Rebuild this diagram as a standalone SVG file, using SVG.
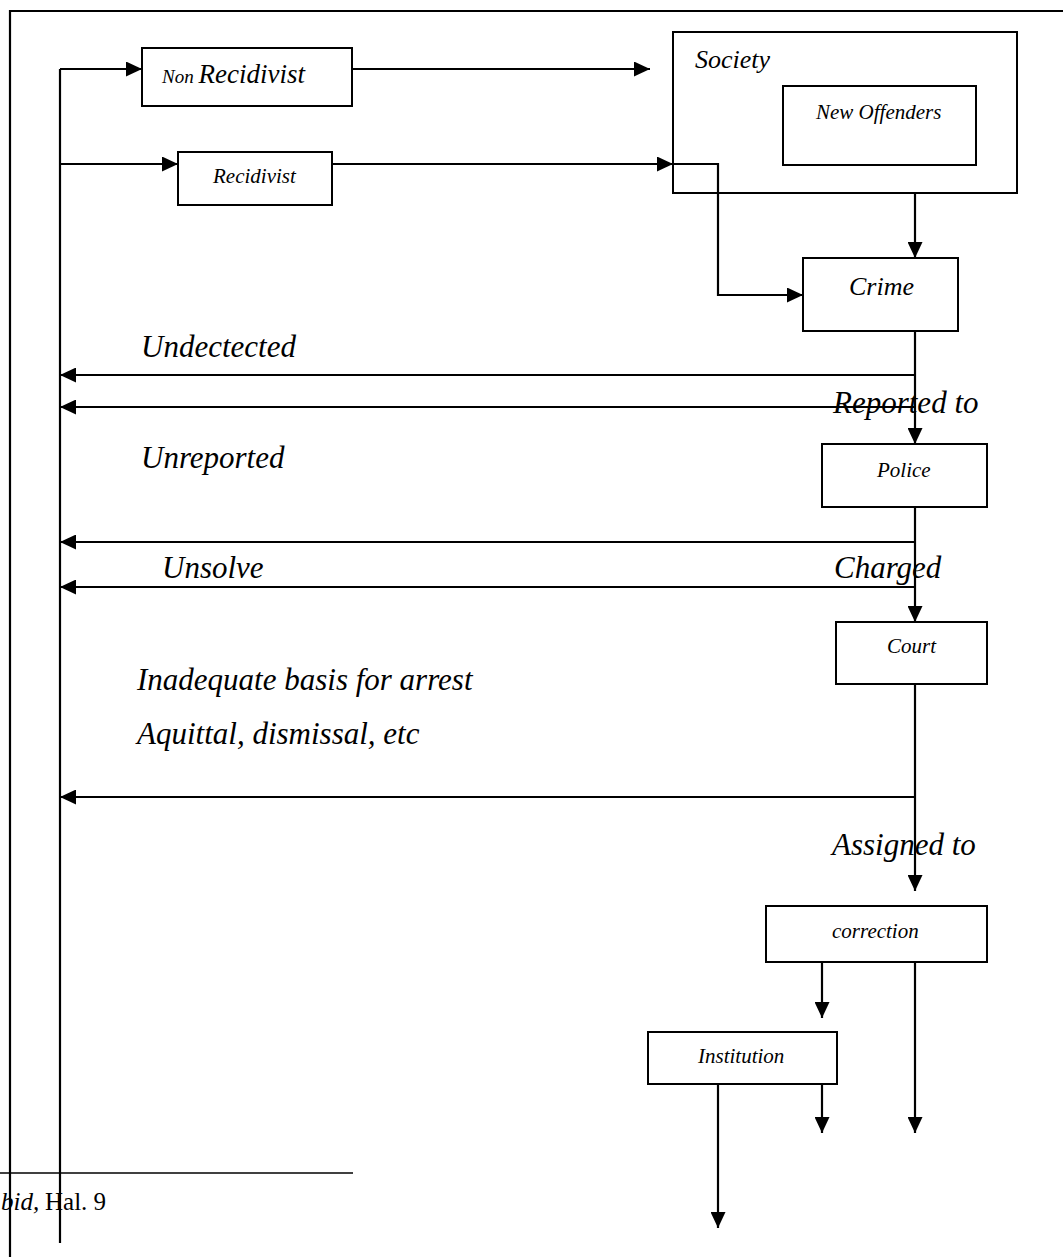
<svg xmlns="http://www.w3.org/2000/svg" width="1063" height="1257" viewBox="0 0 1063 1257">
  <style>
    .box { fill: #fff; stroke: #000; stroke-width: 2; }
    .wire { fill: none; stroke: #000; stroke-width: 2.2; }
    .arr { fill: none; stroke: #000; stroke-width: 2.2; marker-end: url(#head); }
    text { font-family: "Liberation Serif", "Times New Roman", serif; font-style: italic; fill: #000; }
    .sm { font-size: 21px; }
    .md { font-size: 26px; }
    .lg { font-size: 31px; }
  </style>
  <defs>
    <marker id="head" markerUnits="userSpaceOnUse" markerWidth="16" markerHeight="15" refX="16" refY="7.5" orient="auto">
      <path d="M0,0 L16,7.5 L0,15 Z" fill="#000"/>
    </marker>
  </defs>

  <rect x="0" y="0" width="1063" height="1257" fill="#fff"/>

  <!-- page frame -->
  <path class="wire" d="M10,1257 V11 H1063"/>

  <!-- connectors -->
  <g id="connectors">
    <path class="wire" d="M60,69 V1243"/>
    <path class="arr" d="M60,69 H142"/>
    <path class="arr" d="M352,69 H650"/>
    <path class="arr" d="M60,164 H178"/>
    <path class="arr" d="M332,164 H673"/>
    <path class="arr" d="M673,164 H718 V295 H803"/>
    <path class="arr" d="M915,193 V258"/>
    <path class="arr" d="M915,331 V444"/>
    <path class="arr" d="M915,375 H60"/>
    <path class="arr" d="M915,407 H60"/>
    <path class="arr" d="M915,507 V622"/>
    <path class="arr" d="M915,542 H60"/>
    <path class="arr" d="M915,587 H60"/>
    <path class="arr" d="M915,684 V891"/>
    <path class="arr" d="M915,797 H60"/>
    <path class="arr" d="M822,962 V1018"/>
    <path class="arr" d="M915,962 V1133"/>
    <path class="arr" d="M822,1084 V1133"/>
    <path class="arr" d="M718,1084 V1228"/>
  </g>

  <!-- outcome labels -->
  <g id="labels">
    <text class="lg" x="141" y="357">Undectected</text>
    <text class="lg" x="141" y="468">Unreported</text>
    <text class="lg" x="162" y="578">Unsolve</text>
    <text class="lg" x="137" y="690">Inadequate basis for arrest</text>
    <text class="lg" x="137" y="744">Aquittal, dismissal, etc</text>
    <text class="lg" x="833" y="413">Reported to</text>
    <text class="lg" x="834" y="578">Charged</text>
    <text class="lg" x="832" y="855">Assigned to</text>
  </g>

  <!-- nodes -->
  <g id="non-recidivist">
    <rect class="box" x="142" y="48" width="210" height="58"/>
    <text x="162" y="83"><tspan font-size="19">Non </tspan><tspan font-size="27">Recidivist</tspan></text>
  </g>
  <g id="recidivist">
    <rect class="box" x="178" y="152" width="154" height="53"/>
    <text class="sm" x="213" y="183">Recidivist</text>
  </g>
  <g id="society">
    <rect x="673" y="32" width="344" height="161" fill="none" stroke="#000" stroke-width="2"/>
    <text class="md" x="695" y="68">Society</text>
  </g>
  <g id="new-offenders">
    <rect class="box" x="783" y="86" width="193" height="79"/>
    <text class="sm" x="816" y="119">New Offenders</text>
  </g>
  <g id="crime">
    <rect class="box" x="803" y="258" width="155" height="73"/>
    <text class="md" x="849" y="295">Crime</text>
  </g>
  <g id="police">
    <rect class="box" x="822" y="444" width="165" height="63"/>
    <text class="sm" x="877" y="477">Police</text>
  </g>
  <g id="court">
    <rect class="box" x="836" y="622" width="151" height="62"/>
    <text class="sm" x="887" y="653">Court</text>
  </g>
  <g id="correction">
    <rect class="box" x="766" y="906" width="221" height="56"/>
    <text class="sm" x="832" y="938">correction</text>
  </g>
  <g id="institution">
    <rect class="box" x="648" y="1032" width="189" height="52"/>
    <text class="sm" x="698" y="1063">Institution</text>
  </g>

  <!-- footnote -->
  <path d="M0,1173 H353" stroke="#000" stroke-width="1.6"/>
  <text x="1" y="1210" font-size="25"><tspan>bid,</tspan><tspan x="45" font-style="normal">Hal. 9</tspan></text>
</svg>
